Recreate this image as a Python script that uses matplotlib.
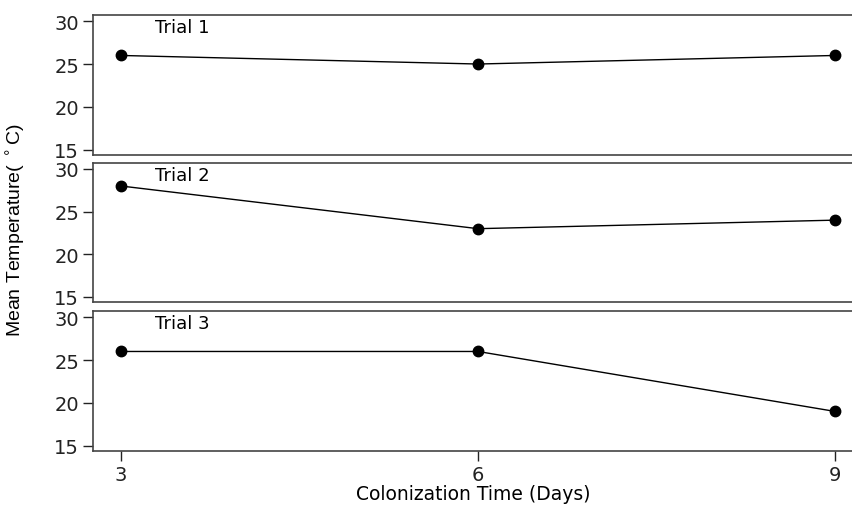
import matplotlib
matplotlib.use("Agg")
import matplotlib.pyplot as plt

plt.rcParams['font.family'] = ['DejaVu Sans']

days = [3, 6, 9]
trial_names = ["Trial 1", "Trial 2", "Trial 3"]
trial1 = [26, 25, 26]
trial2 = [28, 23, 24]
trial3 = [26, 26, 19]
trials = [trial1, trial2, trial3]
y_ticks = [15, 20, 25, 30]

fig = plt.figure(figsize=(8.53, 5.06), dpi=100)

# panel boxes in figure fractions (left, bottom, width, height); right side runs to the figure edge
panels = [
    [0.109, 0.692, 0.891, 0.276],
    [0.109, 0.401, 0.891, 0.275],
    [0.109, 0.107, 0.891, 0.276],
]

for i, (name, vals) in enumerate(zip(trial_names, trials)):
    ax = fig.add_axes(panels[i])
    ax.plot(days, vals, color="black", lw=1, marker="o", ms=7.5)
    ax.set_xlim(2.765, 9.15)
    ax.set_ylim(14.4, 30.7)
    ax.set_yticks(y_ticks)
    ax.text(3.29, 29.3, name, fontsize=13, va="center", ha="left")
    for s in ax.spines.values():
        s.set_color("#444444")
        s.set_linewidth(1.2)
    ax.spines["right"].set_visible(False)
    ax.tick_params(axis="y", direction="out", length=7, width=1, pad=3, labelsize=14, colors="#222222")
    if i < 2:
        ax.set_xticks([])
    else:
        ax.set_xticks(days)
        ax.tick_params(axis="x", direction="out", length=7, width=1, pad=3, labelsize=14, colors="#222222")
        ax.set_xlabel("Colonization Time (Days)", fontsize=13.5, labelpad=0)

fig.text(0.019, 0.545, "Mean Temperature( $^\\circ$C)", rotation=90, va="center", ha="center",
         fontsize=14, family=['Liberation Sans', 'DejaVu Sans'])

fig.savefig("out.png", dpi=100)
